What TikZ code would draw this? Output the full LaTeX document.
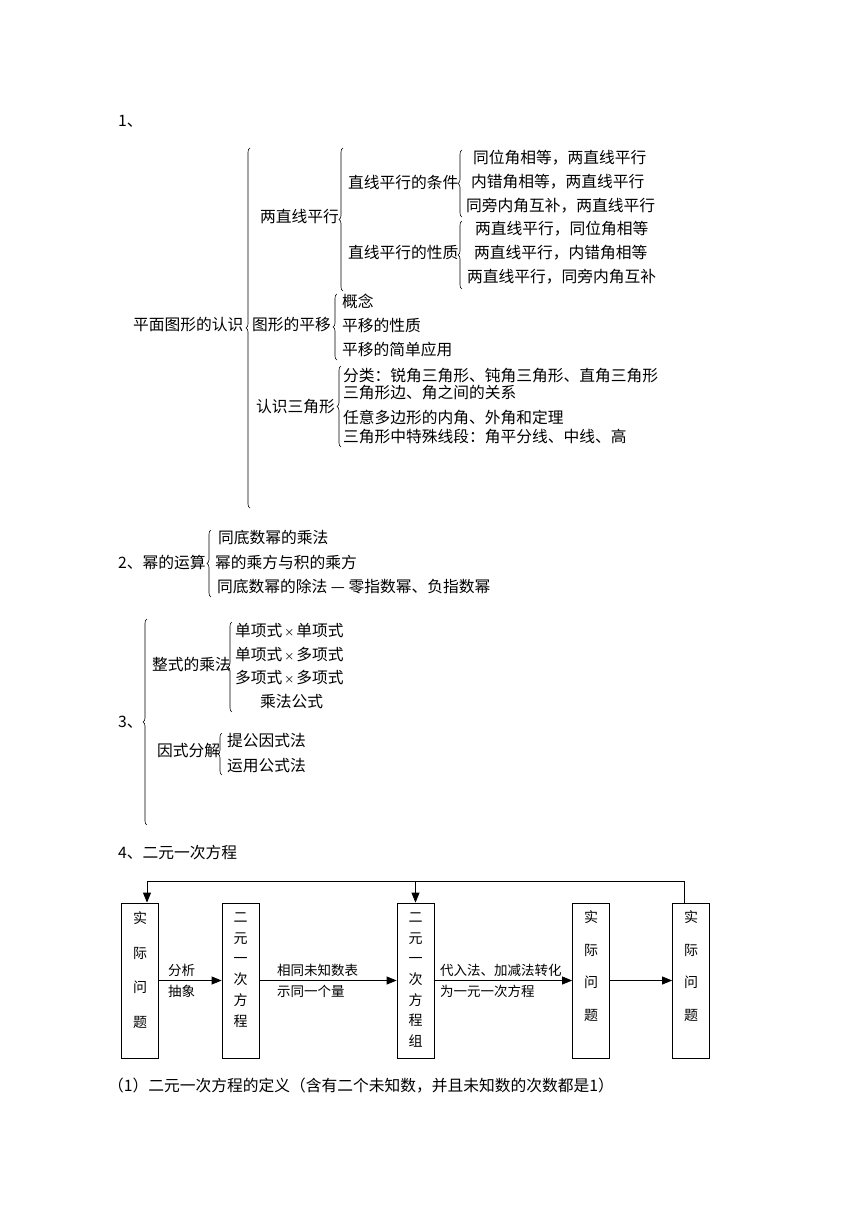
\documentclass[tikz,border=0pt]{standalone}
\usepackage{fontspec}
\newfontfamily\cjk{Noto Sans CJK SC}
\usetikzlibrary{decorations.pathreplacing,arrows.meta}
\newcommand{\smx}{\hspace{2pt}{\fontsize{10}{12}\selectfont ×}\hspace{2pt}}
\begin{document}
\begin{tikzpicture}[x=1pt,y=-1pt,
 txt/.style={anchor=west,inner sep=0pt,font=\cjk\fontsize{15.75}{18}\selectfont},
 lbl/.style={anchor=west,inner sep=0pt,align=left,font=\cjk\fontsize{13.5}{21}\selectfont},
 br/.style={decorate,decoration={brace,amplitude=4pt},line width=0.6pt},
 box/.style={draw,line width=0.8pt,minimum width=37pt,minimum height=155pt,inner sep=0pt},
 vt/.style={inner sep=0pt,align=center},
 arr/.style={-{Triangle[length=10pt,width=8pt]},line width=0.8pt},
 ln/.style={line width=0.8pt}]
\useasboundingbox (0,0) rectangle (860,1216);
\fill[white] (0,0) rectangle (860,1216);

% ---------- 1 ----------
\node[txt] (n1) at (118,121) {1、};
\node[txt] (root) at (133,325) {平面图形的认识};
\draw[br] (250,508) -- (250,148);

\node[txt] (a) at (260,217) {两直线平行};
\draw[br] (343,291) -- (343,148);
\node[txt] (a1) at (348,183) {直线平行的条件};
\draw[br] (462,217) -- (462,150);
\node[txt] (a11) at (473,158) {同位角相等，两直线平行};
\node[txt] (a12) at (471,182) {内错角相等，两直线平行};
\node[txt] (a13) at (466,206) {同旁内角互补，两直线平行};
\node[txt] (a2) at (348,253) {直线平行的性质};
\draw[br] (462,289) -- (462,221);
\node[txt] (a21) at (475,229) {两直线平行，同位角相等};
\node[txt] (a22) at (474,253) {两直线平行，内错角相等};
\node[txt] (a23) at (467,277) {两直线平行，同旁内角互补};

\node[txt] (b) at (252,325) {图形的平移};
\draw[br] (337,360) -- (337,294);
\node[txt] (b1) at (342,301) {概念};
\node[txt] (b2) at (342,326) {平移的性质};
\node[txt] (b3) at (342,350) {平移的简单应用};

\node[txt] (c) at (256,407) {认识三角形};
\draw[br] (341,447) -- (341,366);
\node[txt] (c1) at (343,376) {分类：锐角三角形、钝角三角形、直角三角形};
\node[txt] (c2) at (343,393) {三角形边、角之间的关系};
\node[txt] (c3) at (343,417) {任意多边形的内角、外角和定理};
\node[txt] (c4) at (343,437) {三角形中特殊线段：角平分线、中线、高};

% ---------- 2 ----------
\node[txt] (n2) at (118,562) {2、幂的运算};
\draw[br] (211,597) -- (211,530);
\node[txt] (d1) at (218,538) {同底数幂的乘法};
\node[txt] (d2) at (215,562) {幂的乘方与积的乘方};
\node[txt] (d3) at (217,587) {同底数幂的除法 — 零指数幂、负指数幂};

% ---------- 3 ----------
\node[txt] (n3) at (118,722) {3、};
\draw[br] (147,825) -- (147,619);
\node[txt] (e) at (152,664) {整式的乘法};
\draw[br] (232,712) -- (232,622);
\node[txt] (e1) at (235,631) {单项式\smx 单项式};
\node[txt] (e2) at (235,655) {单项式\smx 多项式};
\node[txt] (e3) at (235,678) {多项式\smx 多项式};
\node[txt] (e4) at (260,702) {乘法公式};
\node[txt] (f) at (157,751) {因式分解};
\draw[br] (222,775) -- (222,733);
\node[txt] (f1) at (227,741) {提公因式法};
\node[txt] (f2) at (227,766) {运用公式法};

% ---------- 4 ----------
\node[txt] (n4) at (118,852) {4、二元一次方程};

\node[box] (B1) at (140,980.5) {};
\node[box] (B2) at (240.5,980.5) {};
\node[box] (B3) at (415.5,980.5) {};
\node[box] (B4) at (591,980.5) {};
\node[box] (B5) at (691,980.5) {};

\node[vt,font=\cjk\fontsize{14}{34.7}\selectfont] (T1) at (140,970) {实\\际\\问\\题};
\node[vt,font=\cjk\fontsize{14}{20.8}\selectfont] (T2) at (240.5,970) {二\\元\\一\\次\\方\\程};
\node[vt,font=\cjk\fontsize{14}{20.7}\selectfont] (T3) at (415.5,980) {二\\元\\一\\次\\方\\程\\组};
\node[vt,font=\cjk\fontsize{14}{32.7}\selectfont] (T4) at (591,966) {实\\际\\问\\题};
\node[vt,font=\cjk\fontsize{14}{32.7}\selectfont] (T5) at (691,966) {实\\际\\问\\题};

\draw[arr] (B1.east) -- (B2.west);
\draw[arr] (B2.east) -- (B3.west);
\draw[arr] (B3.east) -- (B4.west);
\draw[arr] (B4.east) -- (B5.west);

\node[lbl] (L1) at (168,980.5) {分析\\抽象};
\node[lbl] (L2) at (277,980.5) {相同未知数表\\示同一个量};
\node[lbl] (L3) at (440,980.5) {代入法、加减法转化\\为一元一次方程};

\coordinate (t1) at (147,881);
\coordinate (t3) at (415.5,881);
\coordinate (t5) at (684,881);
\draw[ln] (t5 |- B5.north) -- (t5) -- (t1);
\draw[arr] (t1) -- (t1 |- B1.north);
\draw[arr] (t3) -- (B3.north);

\node[txt] (g) at (108,1086) {（1）二元一次方程的定义（含有二个未知数，并且未知数的次数都是1）};
\end{tikzpicture}
\end{document}
